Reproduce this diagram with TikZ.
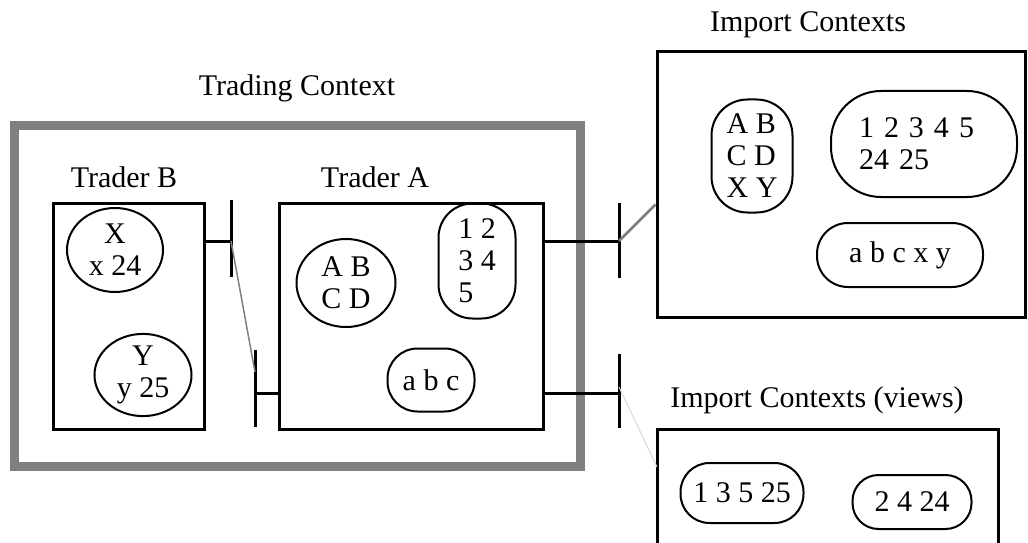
\documentclass[tikz,border=0pt]{standalone}
\usepackage{fontspec}
\setmainfont{Liberation Serif}
\usepackage{tikz}
\usetikzlibrary{shapes}
\usetikzlibrary{calc}
\usetikzlibrary{positioning}

\tikzset{
  frame/.style={draw, line width=3pt, inner sep=0pt},
  oval/.style={draw, ellipse, line width=2pt, inner sep=0pt, align=left},
  pill/.style={draw, rectangle, rounded corners=#1, line width=2pt, inner sep=0pt, align=left},
  bar/.style={line width=3pt},
}

\begin{document}
\begin{tikzpicture}[x=1pt, y=1pt, font=\fontsize{30}{32}\selectfont]
  \useasboundingbox (0,0) rectangle (1028,542);

%%%%%%%%%%%% Trading context
  \draw[gray, line width=9pt] (14,76) rectangle (580,416);
  \node (trading) at (297,454) {Trading Context};

  \node[frame, minimum width=151pt, minimum height=226pt] (traderB) at (128.5,226) {};
  \node (labelB) at (124,365) {Trader B};
  \node[oval, align=center, minimum width=96pt, minimum height=84pt] (setX) at (115,292) {X\\x 24};
  \node[oval, align=center, minimum width=97pt, minimum height=80pt] (setY) at (143,167) {Y\\y 25};

  \node[frame, minimum width=264pt, minimum height=226pt] (traderA) at (411,226) {};
  \node (labelA) at (375,365) {Trader A};
  \node[oval, minimum width=99pt, minimum height=88pt] (setABCD) at (346,259) {A B\\C D};
  \node[pill=34pt, minimum width=77pt, minimum height=115pt] (setNum) at (477,281) {1 2\\3 4\\5};
  \node[pill=30pt, minimum width=87pt, minimum height=63pt] (setAbc) at (431,162) {a b c};

%%%%%%%%%%%% ports
  \coordinate (portB) at (231,301);
  \coordinate (portA) at (255,149);
  \coordinate (portUp) at (619,301);
  \coordinate (portDown) at (619,149);

  \draw[bar] (portB) ++(0,-36) -- ++(0,77);
  \draw[bar] (portA) ++(0,-34) -- ++(0,77);
  \draw[bar] (portUp) ++(0,-37) -- ++(0,75);
  \draw[bar] (portDown) ++(0,-35) -- ++(0,74);

  \draw[bar] (traderB.east |- portB) -- (portB);
  \draw[bar] (portA) -- (traderA.west |- portA);
  \draw[bar] (traderA.east |- portUp) -- (portUp);
  \draw[bar] (traderA.east |- portDown) -- (portDown);

%%%%%%%%%%%% Import contexts
  \node[frame, minimum width=368pt, minimum height=265pt] (imports) at (841,357.5) {};
  \node (labelImports) at (808,517) {Import Contexts};
  \node[pill=36pt, minimum width=81pt, minimum height=113pt] (impUpper) at (752,386) {A B\\C D\\X Y};
  \node[pill=50pt, text width=130pt, minimum width=186pt, minimum height=106pt] (impNum) at (924,398) {1 2 3 4 5\\24 25};
  \node[pill=31pt, minimum width=166pt, minimum height=64pt] (impLower) at (900,287) {a b c x y};

  \draw[line width=3pt] (657,-5) |- (998,113) -- (998,-5);
  \coordinate (views) at (657,75);
  \node (labelViews) at (817,142) {Import Contexts (views)};
  \node[pill=29pt, minimum width=123pt, minimum height=60pt] (viewOdd) at (742,49) {1 3 5 25};
  \node[pill=26pt, minimum width=119pt, minimum height=54pt] (viewEven) at (912,40) {2 4 24};

%%%%%%%%%%%% links
  \draw[gray, line width=1.5pt] (portB) -- ($(portA)+(0,21)$);
  \draw[gray, line width=2.5pt] (portUp) -- ($(imports.west)+(0,-20)$);
  \draw[gray!30, line width=1pt] ($(portDown)+(0,6)$) -- (views);
\end{tikzpicture}
\end{document}
